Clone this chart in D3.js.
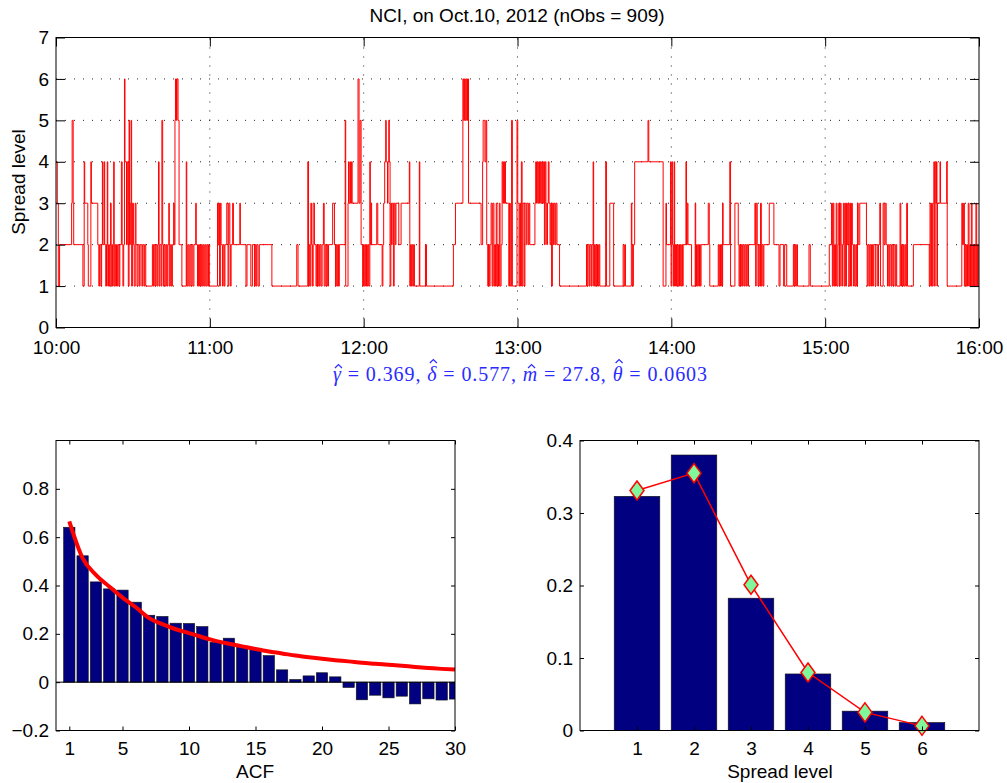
<!DOCTYPE html>
<html>
<head>
<meta charset="utf-8">
<script src="https://cdn.jsdelivr.net/npm/d3@7"></script>
<style>
  body { margin: 0; background: #fff; }
  text { font-family: "Liberation Sans", Arial, sans-serif; }
</style>
</head>
<body>
<svg id="chart" width="1007" height="783"></svg>
<script>
// spread level series: [minutes after 10:00, level]
const spreadSteps = [
  [0,4],[0.5,3],[0.9,1],[1.4,2],[6.1,3],[6.3,5],[6.7,3],[6.9,2],[10.5,1],[11.0,4],[11.2,3],[12.4,2],[12.6,1],[13.6,4],[13.8,3],
  [16.3,2],[16.7,1],[17.0,2],[17.5,1],[17.8,2],[18.1,4],[18.3,2],[18.8,4],[19.0,2],[19.4,1],[19.7,2],[20.0,4],[20.2,1],[20.5,2],
  [20.8,1],[21.1,2],[21.3,3],[21.5,1],[21.8,2],[22.0,1],[22.3,2],[22.5,4],[22.7,1],[23.0,2],[23.3,1],[23.6,2],[23.9,1],[24.2,2],
  [24.6,1],[24.9,2],[25.5,4],[25.8,2],[26.1,1],[26.4,2],[26.7,6],[26.9,4],[27.5,2],[27.8,4],[28.2,1],[28.5,5],[28.7,2],[29.0,3],
  [29.3,5],[29.5,1],[29.8,3],[30.2,2],[30.5,1],[30.9,3],[31.2,2],[31.6,1],[32.0,2],[32.5,1],[32.8,2],[33.5,1],[33.8,2],[34.3,1],
  [34.6,2],[35.0,1],[37.6,2],[38.0,1],[38.3,2],[38.7,1],[39.0,2],[39.4,1],[39.7,2],[40.0,4],[40.2,1],[40.5,2],[41.0,1],[41.3,5],
  [41.6,2],[41.9,1],[42.2,2],[42.6,1],[43.0,2],[43.3,1],[43.6,2],[44.0,3],[44.2,1],[44.6,2],[45.0,1],[45.4,2],[45.9,3],[46.1,2],
  [46.4,5],[46.6,6],[47.0,5],[47.2,6],[47.6,5],[48.0,2],[49.1,1],[50.8,4],[51.0,1],[51.4,2],[51.8,1],[52.2,2],[52.6,1],[53.0,2],
  [53.4,1],[53.8,2],[54.5,3],[54.7,2],[55.2,1],[55.6,2],[56.0,1],[56.4,2],[56.8,1],[57.2,2],[57.6,1],[58.0,2],[58.4,1],[58.8,2],
  [59.2,1],[59.5,2],[59.8,1],[63.0,3],[63.2,2],[63.5,3],[63.8,1],[64.1,3],[64.4,2],[64.9,1],[65.2,2],[65.6,1],[65.9,2],[66.6,3],
  [67.1,1],[67.4,3],[67.8,2],[68.0,1],[68.3,2],[68.9,3],[69.2,2],[71.7,3],[71.9,2],[74.1,1],[74.5,2],[76.0,1],[76.6,2],[77.4,1],
  [77.7,2],[78.0,1],[78.3,2],[78.8,1],[79.3,2],[84.2,1],[93.9,2],[94.4,1],[98.2,4],[98.5,1],[98.8,2],[99.1,1],[99.4,3],[99.7,2],
  [100.0,1],[100.3,3],[100.8,2],[101.4,1],[101.7,2],[102.0,1],[102.3,2],[102.7,1],[103.0,2],[103.4,1],[103.8,2],[104.3,3],
  [104.6,1],[105.0,2],[105.4,1],[105.7,2],[106.0,1],[106.3,2],[107.9,3],[108.6,2],[109.0,1],[109.3,2],[109.6,1],[109.9,2],
  [110.2,1],[110.5,2],[112.8,5],[113.0,1],[113.9,3],[114.1,4],[114.3,3],[114.7,4],[114.9,3],[115.3,4],[115.5,3],[117.8,6],
  [118.2,3],[118.6,5],[119.0,2],[119.6,1],[119.9,2],[120.2,1],[120.5,2],[120.8,1],[121.1,2],[121.4,1],[121.7,2],[122.0,1],
  [122.4,4],[122.6,2],[122.9,3],[123.1,2],[125.1,3],[125.5,2],[127.2,1],[127.5,2],[127.8,3],[128.2,4],[128.6,5],[128.8,4],
  [129.3,3],[129.5,4],[129.8,5],[130.0,4],[130.3,1],[130.6,3],[130.9,2],[131.1,3],[131.6,1],[131.9,3],[132.3,2],[132.6,3],
  [133.7,2],[134.6,3],[137.8,4],[138.0,1],[138.3,2],[138.6,1],[138.9,2],[139.2,1],[139.5,2],[139.8,1],[141.7,4],[141.9,1],
  [144.1,2],[144.5,1],[155.0,2],[155.8,3],[158.7,6],[159.0,5],[159.3,6],[159.6,5],[159.9,6],[160.2,5],[160.5,6],[160.9,3],
  [165.8,2],[166.4,4],[166.6,5],[167.3,4],[167.7,5],[168.0,2],[168.4,1],[168.7,2],[169.0,1],[169.3,2],[169.7,3],[170.1,1],
  [170.4,3],[170.8,1],[171.1,2],[171.4,1],[171.7,3],[172.0,1],[172.3,2],[172.6,1],[172.9,3],[173.2,1],[173.6,2],[174.0,4],
  [174.3,3],[174.6,4],[174.8,3],[175.0,4],[175.3,3],[176.6,1],[176.9,3],[177.2,1],[177.7,5],[178.0,1],[179.8,5],[180.1,3],
  [180.6,1],[180.9,3],[181.2,1],[181.5,4],[181.8,1],[182.1,3],[182.6,1],[182.9,3],[183.4,2],[183.7,3],[184.2,2],[184.5,3],
  [184.8,2],[186.8,3],[187.1,4],[187.4,3],[187.7,4],[188.0,3],[188.3,4],[188.6,3],[188.9,4],[189.2,3],[189.5,4],[189.8,3],
  [190.2,4],[190.5,2],[190.8,4],[191.1,3],[191.4,2],[191.7,3],[192.0,4],[192.3,3],[192.7,2],[193.0,3],[193.3,1],[193.6,3],
  [194.0,2],[194.3,3],[194.7,2],[195.0,3],[195.4,2],[196.4,1],[206.9,2],[207.2,1],[207.5,2],[208.0,1],[208.3,2],[208.8,1],
  [209.1,2],[209.5,4],[209.7,1],[210.0,2],[210.3,1],[210.6,2],[210.9,1],[211.2,2],[211.5,1],[211.8,2],[212.1,1],[214.4,4],
  [214.7,1],[216.0,3],[217.5,1],[221.2,2],[221.6,1],[221.9,2],[222.1,1],[224.4,3],[224.6,2],[224.9,1],[225.2,2],[225.7,4],
  [230.9,5],[231.2,4],[236.8,1],[237.9,3],[238.1,2],[239.7,4],[239.9,1],[240.2,4],[240.5,2],[240.8,1],[241.1,4],[241.3,1],
  [241.6,2],[242.0,1],[242.3,2],[242.6,1],[242.9,2],[243.2,1],[243.5,2],[243.8,1],[244.1,2],[244.4,1],[244.6,2],[245.7,4],
  [245.9,2],[246.2,3],[246.5,2],[247.9,1],[249.3,3],[249.5,1],[249.8,2],[250.1,1],[250.4,2],[250.7,1],[251.0,2],[251.3,1],
  [251.6,2],[254.4,3],[254.8,2],[255.0,1],[258.3,2],[258.6,1],[258.9,2],[259.2,1],[259.5,2],[259.8,1],[260.0,3],[260.2,2],
  [262.8,4],[263.1,1],[264.8,3],[266.1,2],[266.4,1],[266.7,2],[267.0,1],[267.3,2],[267.7,1],[268.0,2],[268.4,1],[268.7,2],
  [269.1,1],[269.4,2],[269.8,1],[270.1,2],[272.6,3],[272.9,1],[273.1,3],[273.5,2],[273.8,1],[274.1,2],[274.5,1],[274.8,3],
  [275.1,1],[275.4,2],[275.8,1],[276.1,2],[278.2,3],[280.0,2],[282.0,1],[282.4,2],[283.8,1],[284.2,2],[285.0,1],[287.6,2],
  [287.9,1],[288.2,2],[288.5,1],[288.9,2],[289.2,1],[293.7,2],[294.2,1],[301.6,2],[302.5,3],[302.8,1],[303.1,3],[303.4,1],
  [303.7,2],[304.0,1],[304.3,3],[304.6,1],[305.0,2],[305.3,3],[305.6,1],[305.9,3],[306.2,2],[306.5,1],[306.8,2],[307.1,3],
  [307.4,1],[307.7,3],[308.0,1],[308.3,3],[308.6,2],[308.9,3],[309.2,1],[309.6,3],[309.9,1],[310.3,3],[310.6,2],[311.0,1],
  [311.3,2],[311.6,1],[312.0,2],[312.3,1],[312.6,3],[312.9,2],[313.5,3],[316.1,2],[316.4,1],[316.7,2],[317.1,1],[317.4,2],
  [317.8,1],[318.1,2],[318.5,1],[318.8,2],[319.5,1],[319.8,2],[320.5,1],[320.8,2],[321.3,3],[321.6,1],[322.6,3],[323.0,2],
  [323.4,3],[323.8,2],[324.3,1],[324.6,2],[325.0,1],[325.3,2],[325.8,1],[326.1,2],[326.5,1],[326.8,2],[327.3,1],[327.6,2],
  [327.9,1],[329.2,3],[329.5,1],[329.8,2],[330.1,1],[330.5,2],[330.8,1],[331.2,2],[331.5,1],[331.8,3],[332.1,1],[334.4,2],
  [340.6,1],[340.9,3],[341.2,1],[341.5,3],[341.8,1],[342.1,3],[342.4,4],[342.6,1],[342.9,4],[343.2,3],[343.4,4],[343.6,1],
  [343.8,3],[344.8,4],[345.0,3],[347.4,4],[347.6,1],[353.3,3],[353.6,2],[354.0,3],[354.3,1],[354.6,2],[354.9,1],[355.2,2],
  [355.5,1],[355.8,3],[356.1,1],[356.4,2],[356.7,1],[357.0,3],[357.3,1],[357.6,2],[357.9,1],[358.2,2],[358.5,1],[358.8,3],
  [359.1,1],[359.4,2],[359.7,1],[360,1]
];
const hourTicks = [0, 60, 120, 180, 240, 300, 360];
const hourLabels = ["10:00", "11:00", "12:00", "13:00", "14:00", "15:00", "16:00"];
const levelTicks = [0, 1, 2, 3, 4, 5, 6, 7];

// sample ACF and fitted model ACF
const acfLags = [1,2,3,4,5,6,7,8,9,10,11,12,13,14,15,16,17,18,19,20,21,22,23,24,25,26,27,28,29,30];
const acfValues = [0.641,0.523,0.415,0.386,0.381,0.331,0.277,0.272,0.244,0.243,0.230,0.165,0.182,0.148,0.137,
  0.110,0.051,0.011,0.026,0.039,0.022,-0.022,-0.073,-0.054,-0.065,-0.058,-0.090,-0.069,-0.074,-0.070];
const acfModel = [0.665,0.513,0.444,0.396,0.350,0.310,0.265,0.240,0.219,0.203,0.186,0.171,0.159,0.148,0.137,
  0.127,0.119,0.110,0.103,0.097,0.091,0.086,0.080,0.076,0.072,0.068,0.063,0.059,0.055,0.052];
const acfXTicks = [1, 5, 10, 15, 20, 25, 30];
const acfYTicks = [-0.2, 0, 0.2, 0.4, 0.6, 0.8];

// empirical vs model distribution of spread levels
const levels = [1, 2, 3, 4, 5, 6];
const levelFreq = [0.323, 0.380, 0.1825, 0.078, 0.0267, 0.011];
const levelModel = [0.331, 0.355, 0.201, 0.080, 0.025, 0.0064];
const distYTicks = [0, 0.1, 0.2, 0.3, 0.4];

// fitted parameters (hatted symbols)
const paramNames = ["γ", "δ", "m", "θ"];
const paramTall = [false, true, false, true];
const paramValues = ["0.369", "0.577", "27.8", "0.0603"];

const svg = d3.select("#chart");
const fontPx = 19;
const navy = "#000080";
const blue = "#2b2bff";
const serif = "Liberation Serif, DejaVu Serif, serif";

// MATLAB-like box: inward ticks on all four sides
function box(g, x, y, xTicks, yTicks, xFmt, yFmt, tick, xPad) {
  const [x0, x1] = x.range(), [y0, y1] = y.range();
  g.append("g").attr("transform", `translate(0,${y0})`)
    .call(d3.axisBottom(x).tickValues(xTicks).tickFormat(xFmt).tickSizeInner(-tick).tickSizeOuter(0).tickPadding(xPad));
  g.append("g").attr("transform", `translate(0,${y1})`)
    .call(d3.axisTop(x).tickValues(xTicks).tickFormat("").tickSizeInner(-tick).tickSizeOuter(0));
  g.append("g").attr("transform", `translate(${x0},0)`)
    .call(d3.axisLeft(y).tickValues(yTicks).tickFormat(yFmt).tickSizeInner(-tick).tickSizeOuter(0).tickPadding(7));
  g.append("g").attr("transform", `translate(${x1},0)`)
    .call(d3.axisRight(y).tickValues(yTicks).tickFormat("").tickSizeInner(-tick).tickSizeOuter(0));
  g.selectAll(".domain").remove();
  g.selectAll(".tick line").attr("stroke", "#000");
  g.selectAll(".tick text")
    .attr("font-size", fontPx)
    .attr("font-family", "Liberation Sans, Arial, sans-serif")
    .attr("fill", "#000");
  g.append("rect")
    .attr("x", x0).attr("y", y1)
    .attr("width", x1 - x0).attr("height", y0 - y1)
    .attr("fill", "none").attr("stroke", "#000").attr("stroke-width", 1);
}

const fmtNum = d => d === 0 ? "0" : (d < 0 ? "\u2212" : "") + Math.abs(d).toFixed(1);

// ---------- top: spread level over the day ----------
const xT = d3.scaleLinear().domain([0, 360]).range([56, 979]);
const yT = d3.scaleLinear().domain([0, 7]).range([327.5, 37.5]);
const topPlot = svg.append("g");

topPlot.selectAll(".hgrid").data(levelTicks.slice(1, -1)).enter()
  .append("line")
  .attr("x1", xT(0)).attr("x2", xT(360))
  .attr("y1", d => yT(d)).attr("y2", d => yT(d))
  .attr("stroke", "#222").attr("stroke-dasharray", "1,8");
topPlot.selectAll(".vgrid").data(hourTicks.slice(1, -1)).enter()
  .append("line")
  .attr("x1", d => xT(d)).attr("x2", d => xT(d))
  .attr("y1", yT(0)).attr("y2", yT(7))
  .attr("stroke", "#222").attr("stroke-dasharray", "1,8");

topPlot.append("path")
  .datum(spreadSteps)
  .attr("fill", "none")
  .attr("stroke", "#ff0000")
  .attr("stroke-width", 1)
  .attr("d", d3.line().x(d => xT(d[0])).y(d => yT(d[1])).curve(d3.curveStepAfter));

box(topPlot, xT, yT, hourTicks, levelTicks, (d, i) => hourLabels[i], d3.format("d"), 9, 13);

svg.append("text")
  .attr("x", 517).attr("y", 22)
  .attr("text-anchor", "middle")
  .attr("font-size", fontPx)
  .text("NCI, on Oct.10, 2012 (nObs = 909)");

svg.append("text")
  .attr("transform", "translate(25,182) rotate(-90)")
  .attr("text-anchor", "middle")
  .attr("font-size", fontPx)
  .text("Spread level");

// fitted parameters line, hats drawn over the measured symbol glyphs
const formula = svg.append("text")
  .attr("x", 520).attr("y", 381)
  .attr("text-anchor", "middle")
  .attr("font-family", serif)
  .attr("font-size", 20)
  .attr("fill", blue)
  .attr("textLength", 374)
  .attr("lengthAdjust", "spacing");
const symIdx = [];
let nChars = 0;
paramNames.forEach((p, i) => {
  symIdx.push(nChars);
  formula.append("tspan").attr("font-style", "italic").attr("font-family", serif).text(p);
  const rest = " = " + paramValues[i] + (i < paramNames.length - 1 ? ", " : "");
  formula.append("tspan").attr("font-family", serif).text(rest);
  nChars += p.length + rest.length;
});
symIdx.forEach((ci, i) => {
  const ext = formula.node().getExtentOfChar(ci);
  const cx = ext.x + ext.width / 2 + 1.5;
  const hy = 381 - (paramTall[i] ? 18 : 13);
  svg.append("path")
    .attr("d", `M${cx - 3.5},${hy}L${cx},${hy - 3.5}L${cx + 3.5},${hy}`)
    .attr("fill", "none").attr("stroke", blue).attr("stroke-width", 1.2);
});

// ---------- bottom left: ACF ----------
const xA = d3.scaleLinear().domain([0, 30]).range([56, 455]);
const yA = d3.scaleLinear().domain([-0.2, 1]).range([730.5, 440.5]);
const acf = svg.append("g");
svg.append("clipPath").attr("id", "acfClip")
  .append("rect").attr("x", 56).attr("y", 440.5).attr("width", 399).attr("height", 290);

const bwA = (xA(1) - xA(0)) * 0.85;
acf.append("g").attr("clip-path", "url(#acfClip)")
  .selectAll("rect").data(acfLags).enter()
  .append("rect")
  .attr("x", d => xA(d) - bwA / 2)
  .attr("width", bwA)
  .attr("y", (d, i) => yA(Math.max(0, acfValues[i])))
  .attr("height", (d, i) => Math.abs(yA(acfValues[i]) - yA(0)))
  .attr("fill", navy).attr("stroke", "#111").attr("stroke-width", 0.6);

acf.append("line")
  .attr("x1", xA(0)).attr("x2", xA(30))
  .attr("y1", yA(0)).attr("y2", yA(0))
  .attr("stroke", "#000");

acf.append("path")
  .datum(acfLags)
  .attr("fill", "none")
  .attr("stroke", "#ff0000")
  .attr("stroke-width", 4)
  .attr("d", d3.line().x(d => xA(d)).y((d, i) => yA(acfModel[i])).curve(d3.curveMonotoneX));

box(acf, xA, yA, acfXTicks, acfYTicks, d3.format("d"), fmtNum, 4, 11);

svg.append("text")
  .attr("x", 255).attr("y", 778)
  .attr("text-anchor", "middle")
  .attr("font-size", fontPx)
  .text("ACF");

// ---------- bottom right: level distribution ----------
const xD = d3.scaleLinear().domain([0, 7]).range([580, 979]);
const yD = d3.scaleLinear().domain([0, 0.4]).range([730.5, 440.5]);
const dist = svg.append("g");
const bwD = (xD(1) - xD(0)) * 0.8;

dist.selectAll("rect.bar").data(levels).enter()
  .append("rect")
  .attr("class", "bar")
  .attr("x", d => xD(d) - bwD / 2)
  .attr("width", bwD)
  .attr("y", (d, i) => yD(levelFreq[i]))
  .attr("height", (d, i) => yD(0) - yD(levelFreq[i]))
  .attr("fill", navy).attr("stroke", "#111").attr("stroke-width", 0.6);

dist.append("path")
  .datum(levels)
  .attr("fill", "none")
  .attr("stroke", "#ff0000")
  .attr("stroke-width", 1.5)
  .attr("d", d3.line().x(d => xD(d)).y((d, i) => yD(levelModel[i])));

dist.selectAll("path.mk").data(levels).enter()
  .append("path")
  .attr("class", "mk")
  .attr("transform", (d, i) => `translate(${xD(d)},${yD(levelModel[i])})`)
  .attr("d", "M0,-9.5L7,0L0,9.5L-7,0Z")
  .attr("fill", "#80f79a")
  .attr("stroke", "#ff0000")
  .attr("stroke-width", 1.5);

box(dist, xD, yD, levels, distYTicks, d3.format("d"), fmtNum, 4, 11);

svg.append("text")
  .attr("x", 780).attr("y", 778)
  .attr("text-anchor", "middle")
  .attr("font-size", fontPx)
  .text("Spread level");
</script>
</body>
</html>
